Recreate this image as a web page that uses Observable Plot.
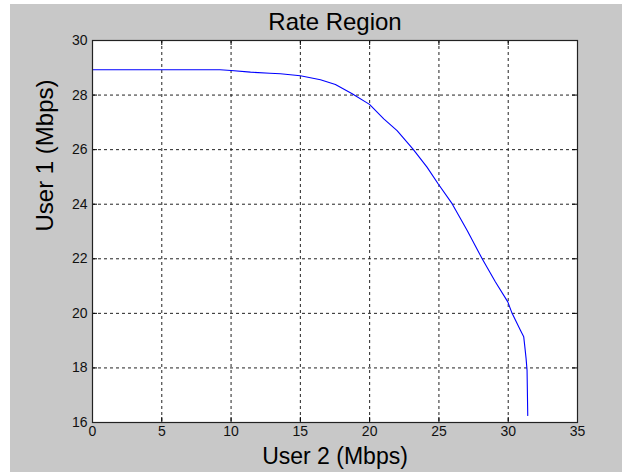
<!DOCTYPE html>
<html>
<head>
<meta charset="utf-8">
<script src="https://cdn.jsdelivr.net/npm/d3@7"></script>
<script src="https://cdn.jsdelivr.net/npm/@observablehq/plot@0.6"></script>
<style>
  html, body { margin: 0; padding: 0; background: #fff; }
  #fig { position: absolute; left: 10px; top: 4px; width: 612px; height: 468px; background: #c8c8c8; }
</style>
</head>
<body>
<div id="fig"></div>
<script>
// Boundary of the achievable rate region
const user2Rate = [0, 9.2, 10, 11.4, 12.8, 13.56, 15.0, 16.45, 17.53, 18.74, 19.99, 21.02, 21.98, 23.13, 24.14, 24.94, 25.95, 27.04, 28.12, 29.08, 29.97, 30.28, 30.88, 31.12, 31.2, 31.29, 31.36, 31.41];
const user1Rate = [28.93, 28.93, 28.9, 28.84, 28.8, 28.78, 28.71, 28.56, 28.39, 28.05, 27.66, 27.13, 26.7, 26.02, 25.36, 24.75, 24.02, 23.04, 22.0, 21.15, 20.42, 20.0, 19.38, 19.14, 18.77, 18.34, 17.91, 16.26];

const xTicks = [0, 5, 10, 15, 20, 25, 30, 35];
const yTicks = [16, 18, 20, 22, 24, 26, 28, 30];

const title = "Rate Region";
const xLabel = "User 2 (Mbps)";
const yLabel = "User 1 (Mbps)";

const points = user2Rate.map((x, i) => ({x, y: user1Rate[i]}));

const W = 612, H = 468;
const mL = 82, mR = 45, mT = 36, mB = 50;
const innerW = W - mL - mR, innerH = H - mT - mB;
const tickLen = 5;
const inner = xTicks.slice(1, -1);
const innerY = yTicks.slice(1, -1);
const font = "'Liberation Sans', Arial, sans-serif";

const chart = Plot.plot({
  width: W,
  height: H,
  marginLeft: mL, marginRight: mR, marginTop: mT, marginBottom: mB,
  style: {background: "#c8c8c8", fontFamily: font, color: "#000", overflow: "visible"},
  x: {domain: [0, 35]},
  y: {domain: [16, 30]},
  marks: [
    Plot.frame({fill: "#fff", stroke: null}),
    Plot.gridX(inner, {stroke: "#222", strokeOpacity: 1, strokeDasharray: "3,3"}),
    Plot.gridY(innerY, {stroke: "#222", strokeOpacity: 1, strokeDasharray: "3,3"}),
    // inward tick marks on all four sides
    Plot.tickX(xTicks, {x: d => d, insetTop: innerH - tickLen, stroke: "#000"}),
    Plot.tickX(xTicks, {x: d => d, insetBottom: innerH - tickLen, stroke: "#000"}),
    Plot.tickY(yTicks, {y: d => d, insetLeft: innerW - tickLen, stroke: "#000"}),
    Plot.tickY(yTicks, {y: d => d, insetRight: innerW - tickLen, stroke: "#000"}),
    Plot.line(points, {x: "x", y: "y", stroke: "#0000ff", strokeWidth: 1.1}),
    Plot.frame({stroke: "#222", strokeWidth: 1.2}),
    Plot.axisX(xTicks, {tickSize: 0, tickPadding: 4, label: null, fontSize: 14, fill: "#111"}),
    Plot.axisY(yTicks, {tickSize: 0, tickPadding: 5, label: null, fontSize: 14, fill: "#111"}),
    Plot.text([title], {text: d => d, frameAnchor: "top", lineAnchor: "middle", dy: -18, fontSize: 24, fill: "#000"}),
    Plot.text([xLabel], {text: d => d, frameAnchor: "bottom", lineAnchor: "middle", dy: 34, fontSize: 23, fill: "#000"}),
    Plot.text([yLabel], {text: d => d, frameAnchor: "left", lineAnchor: "middle", dx: -47, rotate: -90, fontSize: 24, fill: "#000"})
  ]
});

document.getElementById("fig").appendChild(chart);
</script>
</body>
</html>
